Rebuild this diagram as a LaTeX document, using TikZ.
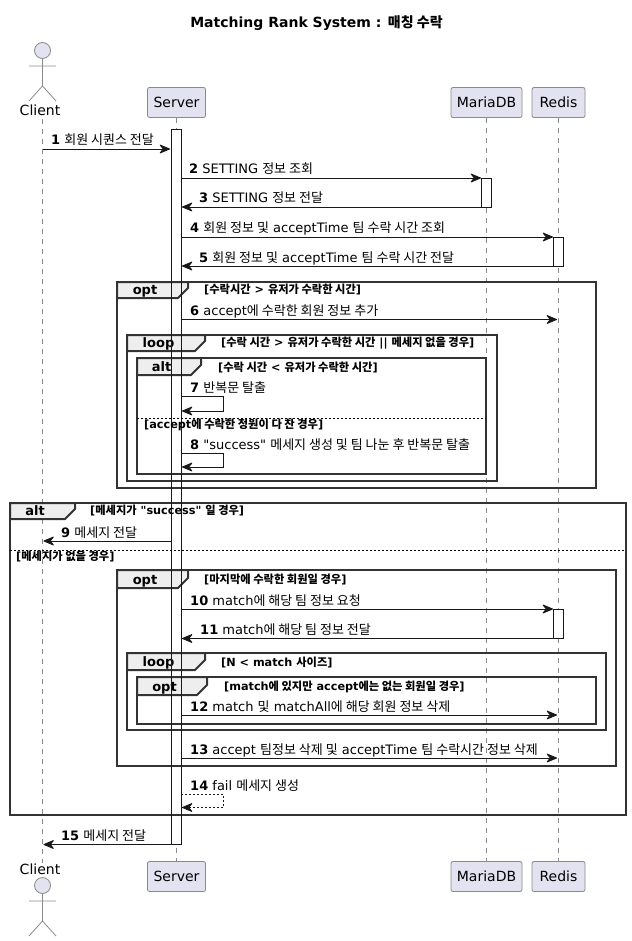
\documentclass[tikz,border=0pt]{standalone}
\usepackage{fontspec}
\usetikzlibrary{arrows.meta}
\newfontfamily\basefont{DejaVu Sans}
\newfontfamily\krfont{Noto Sans CJK KR}
\newcommand{\KR}[1]{{\krfont #1}}
\definecolor{partfill}{HTML}{E2E2F0}
\definecolor{partline}{HTML}{8A8A8A}
\definecolor{msgline}{HTML}{181818}
\definecolor{tabfill}{HTML}{EEEEEE}
\tikzset{
  x=1pt,y=-1pt,
  titletext/.style={font=\fontsize{14}{16}\selectfont\bfseries,inner sep=0pt},
  partbox/.style={draw=partline,fill=partfill,rounded corners=2pt,line width=.8pt,minimum height=30pt,inner sep=0pt,font=\fontsize{14}{16}\selectfont},
  actorlabel/.style={inner sep=0pt,anchor=base,font=\fontsize{14}{16}\selectfont},
  actorline/.style={draw=partline,line width=.8pt},
  actorhead/.style={circle,draw=partline,fill=partfill,line width=.8pt,minimum size=16pt,inner sep=0pt},
  lifeline/.style={draw=partline,line width=.8pt,dash pattern=on 5pt off 5pt},
  barline/.style={draw=msgline,line width=.9pt},
  msgtip/.style={-{Stealth[length=12pt,width=10pt,inset=4pt,round]}},
  msgarrow/.style={draw=msgline,line width=.9pt,msgtip},
  selfarrow/.style={draw=msgline,line width=.9pt,msgtip},
  returnarrow/.style={draw=msgline,line width=.9pt,dash pattern=on 2pt off 2pt,msgtip},
  msgtext/.style={inner sep=0pt,anchor=base west,font=\fontsize{13}{15}\selectfont},
  frameline/.style={draw=black!80,line width=2pt},
  tabshape/.style={draw=black!80,line width=2pt,fill=tabfill,line join=miter},
  tabtext/.style={inner sep=0pt,anchor=base,font=\fontsize{13}{15}\selectfont\bfseries},
  condtext/.style={inner sep=0pt,anchor=base west,font=\fontsize{11.25}{13}\selectfont\bfseries},
  divider/.style={draw=black,line width=.9pt,dash pattern=on 2pt off 2pt},
}
% frame: x1 y1 x2 y2 tabright tabbottom
\newcommand{\FrameBox}[7]{%
  \draw[frameline] (#1,#2) rectangle (#3,#4);
  \draw[tabshape] (#1,#2) -- (#5,#2) -- (#5,#6-10) -- (#5-10,#6) -- (#1,#6) -- cycle;
  \node[tabtext] (#7) at ({(#1+#5-10)/2-2.5},#6-4) {#7};
}
% message: id, x1, x2, y, text x, text
\newcommand{\Msg}[6]{%
  \coordinate (#1s) at (#2,#4);
  \coordinate (#1e) at (#3,#4);
  \draw[msgarrow] (#1s) -- (#1e);
  \node[msgtext] (#1t) at (#5,#4-4) {#6};
}
% self message: id, y1, y2, text, style
\newcommand{\SelfMsg}[5]{%
  \coordinate (#1s) at (181,#2);
  \coordinate (#1a) at (223,#2);
  \coordinate (#1b) at (223,#3);
  \coordinate (#1e) at (182,#3);
  \draw[#5] (#1s) -- (#1a) -- (#1b) -- (#1e);
  \node[msgtext] (#1t) at (190,#2-4) {#4};
}
\begin{document}
\begin{tikzpicture}
\basefont
\useasboundingbox (0,0) rectangle (631,941);
% title
\node[titletext] (title) at (316.5,23.5) {Matching Rank System : \KR{매칭 수락}};
% participants
\node[partbox,minimum width=58pt] (srvT) at (176.5,102.5) {Server};
\node[partbox,minimum width=71pt] (maT) at (486.5,102.5) {MariaDB};
\node[partbox,minimum width=53pt] (reT) at (558.5,102.5) {Redis};
\node[partbox,minimum width=58pt] (srvB) at (176.5,876.5) {Server};
\node[partbox,minimum width=71pt] (maB) at (486.5,876.5) {MariaDB};
\node[partbox,minimum width=53pt] (reB) at (558.5,876.5) {Redis};
% actors
\node[actorhead] (cliH) at (42.5,50.5) {};
\coordinate (cliHip) at (42.5,86);
\coordinate (cliArmL) at (29,66);
\coordinate (cliArmR) at (56,66);
\coordinate (cliFootL) at (29,101);
\coordinate (cliFootR) at (56,101);
\draw[actorline] (cliH.south) -- (cliHip) -- (cliFootL) (cliHip) -- (cliFootR) (cliArmL) -- (cliArmR);
\node[actorlabel] (cliT) at (40,115.5) {Client};
\node[actorlabel] (cliB) at (40,874) {Client};
\node[actorhead] (cliH2) at (42.5,885.5) {};
\coordinate (cliHip2) at (42.5,921);
\coordinate (cliArmL2) at (29,901);
\coordinate (cliArmR2) at (56,901);
\coordinate (cliFootL2) at (29,936);
\coordinate (cliFootR2) at (56,936);
\draw[actorline] (cliH2.south) -- (cliHip2) -- (cliFootL2) (cliHip2) -- (cliFootR2) (cliArmL2) -- (cliArmR2);
% lifelines
\coordinate (cliL1) at (42.5,119);
\coordinate (cliL2) at (42.5,863);
\draw[lifeline] (cliL1) -- (cliL2);
\draw[lifeline] (srvT.south) -- (srvB.north);
\draw[lifeline] (maT.south) -- (maB.north);
\draw[lifeline] (reT.south) -- (reB.north);
% activation fills
\fill[white] (171,129) rectangle (181,844.5);
\fill[white] (481,178.5) rectangle (491.5,207.5);
\fill[white] (553.5,237.5) rectangle (563.5,266.5);
\fill[white] (553.5,609.5) rectangle (563.5,638.5);
% frames
\FrameBox{117}{282}{596}{488}{188}{298}{opt}
\FrameBox{127}{335}{497}{481}{205}{351}{loop}
\FrameBox{137}{358}{486}{474}{201}{375}{alt}
\FrameBox{10}{503}{626}{815}{75}{519}{alt}
\FrameBox{117}{570}{616}{766}{188}{588}{opt}
\FrameBox{127}{653}{606}{730}{205}{670}{loop}
\FrameBox{137}{677}{596}{724}{207}{695}{opt}
% activation outlines
\draw[barline] (171,129) rectangle (181,844.5);
\draw[barline] (481.5,178.5) rectangle (491.5,207.5);
\draw[barline] (553.5,237.5) rectangle (563.5,266.5);
\draw[barline] (553.5,609.5) rectangle (563.5,638.5);
% conditions
\node[condtext] (c1) at (204,293) {[\KR{수락시간} > \KR{유저가 수락한 시간}]};
\node[condtext] (c2) at (221,346) {[\KR{수락 시간} > \KR{유저가 수락한 시간} || \KR{메세지 없을 경우}]};
\node[condtext] (c3) at (218,371) {[\KR{수락 시간} < \KR{유저가 수락한 시간}]};
\node[condtext] (c4) at (144,428.5) {[accept\KR{에 수락한 정원이 다 찬 경우}]};
\node[condtext] (c5) at (90,514) {[\KR{메세지가} "success" \KR{일 경우}]};
\node[condtext] (c6) at (16,560) {[\KR{메세지가 없을 경우}]};
\node[condtext] (c7) at (204,583) {[\KR{마지막에 수락한 회원일 경우}]};
\node[condtext] (c8) at (221,666) {[N < match \KR{사이즈}]};
\node[condtext] (c9) at (224,690) {[match\KR{에 있지만} accept\KR{에는 없는 회원일 경우}]};
% dividers
\coordinate (d1a) at (137,418); \coordinate (d1b) at (486,418);
\draw[divider] (d1a) -- (d1b);
\coordinate (d2a) at (10,550); \coordinate (d2b) at (626,550);
\draw[divider] (d2a) -- (d2b);
% messages
\Msg{m1}{42.5}{170}{149}{51}{\textbf{1} \KR{회원 시퀀스 전달}}
\Msg{m2}{181}{481}{178}{189}{\textbf{2} SETTING \KR{정보 조회}}
\Msg{m3}{481}{182}{207}{199}{\textbf{3} SETTING \KR{정보 전달}}
\Msg{m4}{181}{553}{237}{190}{\textbf{4} \KR{회원 정보 및} acceptTime \KR{팀 수락 시간 조회}}
\Msg{m5}{553}{182}{266}{199}{\textbf{5} \KR{회원 정보 및} acceptTime \KR{팀 수락 시간 전달}}
\Msg{m6}{181}{557}{319.5}{190}{\textbf{6} accept\KR{에 수락한 회원 정보 추가}}
\SelfMsg{m7}{396.5}{411}{\textbf{7} \KR{반복문 탈출}}{selfarrow}
\SelfMsg{m8}{453}{467}{\textbf{8} "success" \KR{메세지 생성 및 팀 나눈 후 반복문 탈출}}{selfarrow}
\Msg{m9}{171}{43.5}{541}{61}{\textbf{9} \KR{메세지 전달}}
\Msg{m10}{181}{553}{609}{190}{\textbf{10} match\KR{에 해당 팀 정보 요청}}
\Msg{m11}{553}{182}{638.5}{200}{\textbf{11} match\KR{에 해당 팀 정보 전달}}
\Msg{m12}{181}{557}{715}{190}{\textbf{12} match \KR{및} matchAll\KR{에 해당 회원 정보 삭제}}
\Msg{m13}{181}{557}{758}{190}{\textbf{13} accept \KR{팀정보 삭제 및} acceptTime \KR{팀 수락시간 정보 삭제}}
\SelfMsg{m14}{794}{807.5}{\textbf{14} fail \KR{메세지 생성}}{returnarrow}
\Msg{m15}{171}{43.5}{844.5}{61}{\textbf{15} \KR{메세지 전달}}
\end{tikzpicture}
\end{document}
